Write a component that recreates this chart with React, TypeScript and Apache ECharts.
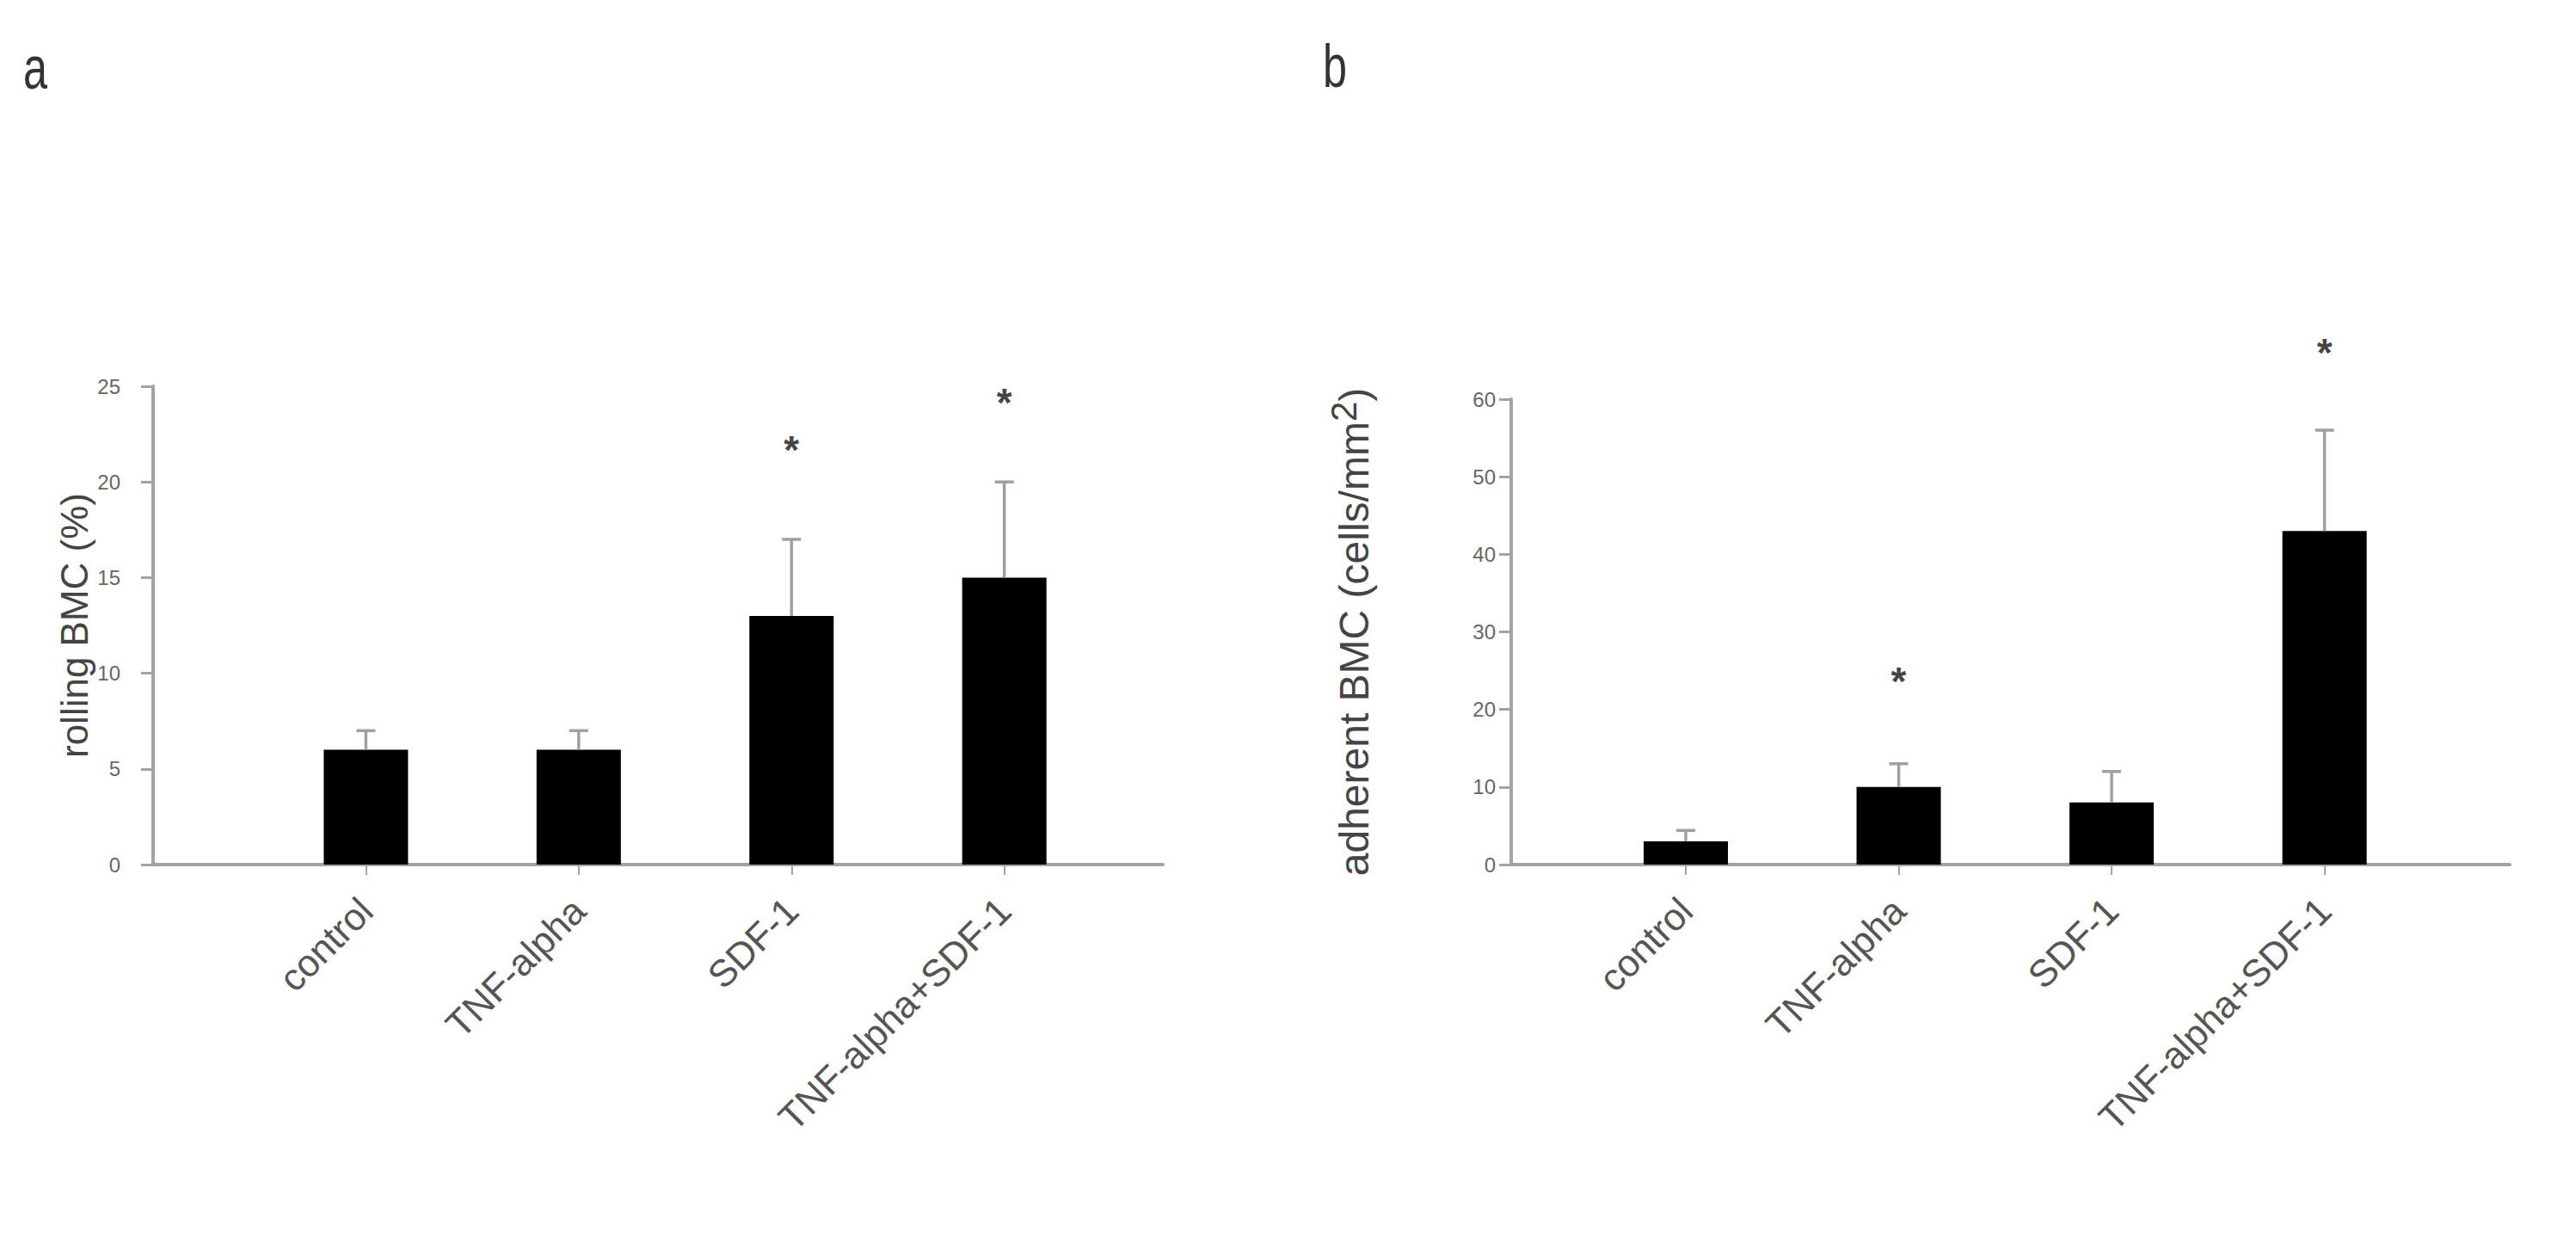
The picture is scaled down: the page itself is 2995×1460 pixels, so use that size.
import React, { useEffect, useRef } from "react";
import * as echarts from "echarts";

// ---- data ----
const categories = ["control", "TNF-alpha", "SDF-1", "TNF-alpha+SDF-1"];
const categoryPos = [1, 2, 3, 4];
// panel a: rolling BMC (%)
const rollingMean = [6, 6, 13, 15];
const rollingErrTop = [7, 7, 17, 20];
const rollingStar = [null, null, 22.2, 24.7];
const rollingTicks = { min: 0, max: 25, interval: 5 };
// panel b: adherent BMC (cells/mm2)
const adherentMean = [3, 10, 8, 43];
const adherentErrTop = [4.4, 13, 12, 56];
const adherentStar = [null, 25, null, 67.3];
const adherentTicks = { min: 0, max: 60, interval: 10 };

const FONT = "Liberation Sans, Arial, sans-serif";
const AXIS_GRAY = "#a3a3a3";

function barData(vals: number[]) {
  return vals.map((v, i) => [categoryPos[i], v]);
}
function errData(mean: number[], top: number[]) {
  return mean.map((m, i) => [categoryPos[i], m, top[i]]);
}
function starData(stars: (number | null)[]) {
  const out: number[][] = [];
  stars.forEach((s, i) => {
    if (s !== null) out.push([categoryPos[i], s]);
  });
  return out;
}

function xAxisCfg(gridIndex: number, min: number, max: number) {
  return {
    type: "value",
    gridIndex,
    min,
    max,
    axisLine: { show: true, onZero: false, lineStyle: { color: AXIS_GRAY, width: 4 } },
    axisTick: {
      show: true,
      length: 12,
      customValues: categoryPos,
      lineStyle: { color: AXIS_GRAY, width: 2 },
    },
    axisLabel: {
      customValues: categoryPos,
      formatter: (v: number) => categories[Math.round(v) - 1] ?? "",
      rotate: 45,
      margin: 46,
      fontSize: 44,
      color: "#555",
      fontFamily: FONT,
    },
    splitLine: { show: false },
  };
}

function yAxisCfg(gridIndex: number, ticks: any, name: any, nameGap: number, nameSize: number, labelMargin: number, rich?: any) {
  return {
    type: "value",
    gridIndex,
    min: ticks.min,
    max: ticks.max,
    interval: ticks.interval,
    name,
    nameLocation: "middle",
    nameRotate: 90,
    nameGap,
    nameTextStyle: { fontSize: nameSize, color: "#444", fontFamily: FONT, rich },
    axisLine: { show: true, onZero: false, lineStyle: { color: AXIS_GRAY, width: 4 } },
    axisTick: { show: true, length: 14, lineStyle: { color: AXIS_GRAY, width: 3 } },
    axisLabel: { fontSize: 24, color: "#666", margin: labelMargin, fontFamily: FONT },
    splitLine: { show: false },
  };
}

const errorRender = (params: any, api: any) => {
  const x = api.value(0);
  const lo = api.coord([x, api.value(1)]);
  const hi = api.coord([x, api.value(2)]);
  const cap = 11;
  const style = { stroke: "#a0a0a0", lineWidth: 3.5 };
  return {
    type: "group",
    children: [
      { type: "line", shape: { x1: lo[0], y1: lo[1], x2: hi[0], y2: hi[1] }, style },
      { type: "line", shape: { x1: hi[0] - cap, y1: hi[1], x2: hi[0] + cap, y2: hi[1] }, style },
    ],
  };
};

function panelSeries(idx: number, mean: number[], top: number[], stars: (number | null)[]) {
  return [
    {
      type: "bar",
      xAxisIndex: idx,
      yAxisIndex: idx,
      data: barData(mean),
      barWidth: 98,
      itemStyle: { color: "#000" },
      z: 2,
    },
    {
      type: "custom",
      xAxisIndex: idx,
      yAxisIndex: idx,
      data: errData(mean, top),
      encode: { x: 0, y: [1, 2] },
      renderItem: errorRender,
      clip: false,
      z: 3,
    },
    {
      type: "scatter",
      xAxisIndex: idx,
      yAxisIndex: idx,
      data: starData(stars),
      symbolSize: 1,
      itemStyle: { color: "rgba(0,0,0,0)" },
      clip: false,
      label: {
        show: true,
        position: "inside",
        formatter: "*",
        fontSize: 46,
        fontWeight: "bold",
        color: "#111",
        fontFamily: FONT,
        offset: [0, 12],
      },
      z: 4,
    },
  ];
}

export default function App() {
  const ref = useRef<HTMLDivElement>(null);
  useEffect(() => {
    if (!ref.current) return;
    const chart = echarts.init(ref.current, null, { renderer: "svg" });
    const option: any = {
      animation: false,
      backgroundColor: "#ffffff",
      textStyle: { fontFamily: FONT },
      grid: [
        { left: 178, top: 449, width: 1174, height: 556 },
        { left: 1757, top: 464, width: 1161, height: 541 },
      ],
      xAxis: [xAxisCfg(0, 0, 4.745), xAxisCfg(1, 0.18, 4.87)],
      yAxis: [
        yAxisCfg(0, rollingTicks, "rolling BMC (%)", 70, 44, 38),
        yAxisCfg(1, adherentTicks, "adherent BMC (cells/mm{sup|2})", 150, 48, 18, {
          sup: { fontSize: 42, color: "#444", fontFamily: FONT, padding: [0, 0, 24, 0] },
        }),
      ],
      series: [
        ...panelSeries(0, rollingMean, rollingErrTop, rollingStar),
        ...panelSeries(1, adherentMean, adherentErrTop, adherentStar),
      ],
      graphic: [
        { type: "text", left: 27, top: 44, scaleX: 0.72, style: { text: "a", fontSize: 70, fill: "#333", fontFamily: FONT } },
        { type: "text", left: 1538, top: 42, scaleX: 0.72, style: { text: "b", fontSize: 70, fill: "#333", fontFamily: FONT } },
      ],
    };
    chart.setOption(option);
    return () => chart.dispose();
  }, []);
  return (
    <div
      ref={ref}
      style={{ position: "absolute", left: 0, top: 0, width: 2995, height: 1460, background: "#fff" }}
    />
  );
}
